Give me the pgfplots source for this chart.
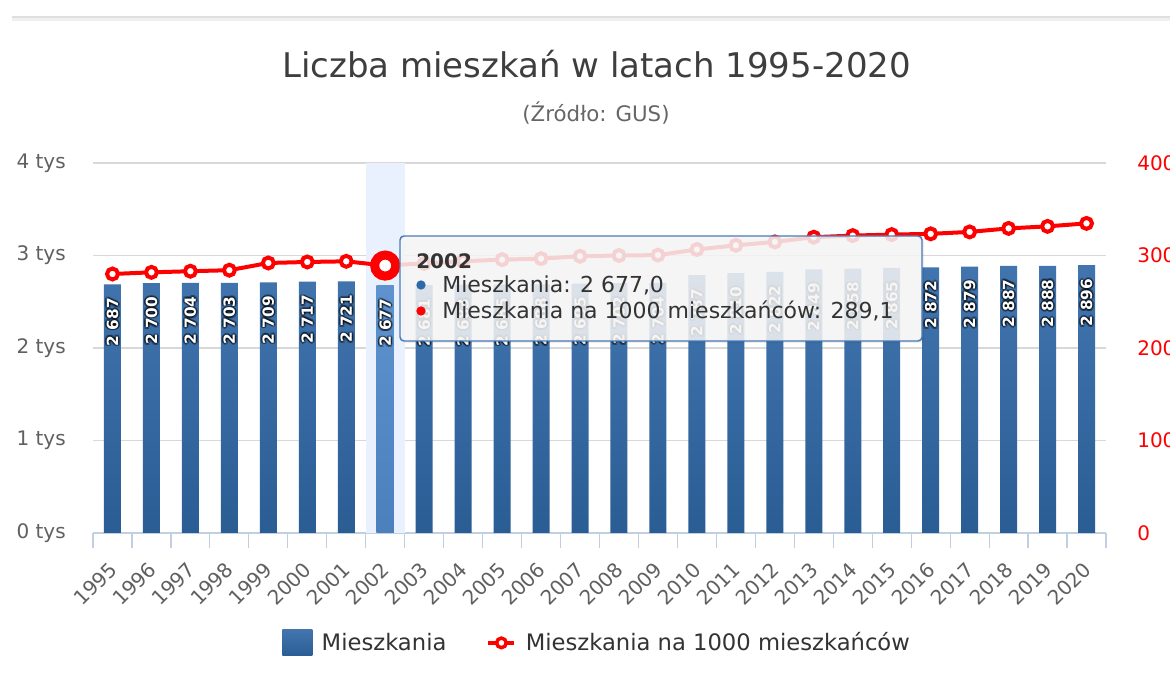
\documentclass[border=0pt]{standalone}
\usepackage{pgfplots}
\pgfplotsset{compat=1.18}
\usepackage{pgfplotstable}
\usepackage{fontspec}
\setmainfont{DejaVu Sans}
\definecolor{gridc}{HTML}{D8D8D8}
\definecolor{axisc}{HTML}{C0D0E0}
\definecolor{labc}{HTML}{606060}
\definecolor{txtc}{HTML}{333333}
\definecolor{titc}{HTML}{3E3E3E}
\definecolor{subc}{HTML}{666666}
\definecolor{bartop}{HTML}{4275AE}
\definecolor{barmid}{HTML}{6298D3}
\definecolor{barbot}{HTML}{2B5D95}
\definecolor{hovtop}{HTML}{5E93CF}
\definecolor{hovmid}{HTML}{82B4EB}
\definecolor{hovbot}{HTML}{4B80BC}
\definecolor{bandc}{HTML}{E8F1FD}
\definecolor{tipborder}{HTML}{4A7AB5}
\definecolor{tipfill}{HTML}{F7F7F7}
\definecolor{dotblue}{HTML}{2F6AA8}
\newcommand\titlefont{\fontsize{25.5}{30}\selectfont}
\newcommand\subfont{\fontsize{16}{19}\selectfont}
\newcommand\tickfont{\fontsize{15}{18}\selectfont}
\newcommand\legfont{\fontsize{17}{20}\selectfont}
\newcommand\tipfont{\fontsize{16.5}{20}\selectfont}
\newcommand\lblfont{\fontsize{11.5}{13}\selectfont\bfseries}

\pgfplotstableread{
i year flats rate
0 1995 2687 280.0
1 1996 2700 281.8
2 1997 2704 283.0
3 1998 2703 284.1
4 1999 2709 291.9
5 2000 2717 293.0
6 2001 2721 293.7
7 2002 2677 289.1
8 2003 2681 291.5
9 2004 2683 293.8
10 2005 2685 295.5
11 2006 2688 296.6
12 2007 2695 299.2
13 2008 2702 300.0
14 2009 2704 300.4
15 2010 2787 306.5
16 2011 2810 311.0
17 2012 2822 314.7
18 2013 2849 319.8
19 2014 2858 321.5
20 2015 2865 322.6
21 2016 2872 323.4
22 2017 2879 325.5
23 2018 2887 329.3
24 2019 2888 331.5
25 2020 2896 334.7
}\data

\pgfplotsset{
  lbl/.style n args={3}{ybar, bar width=12.75pt, bar shift=0pt, draw=none, fill=none, forget plot,
    nodes near coords={\pgfmathprintnumber[assume math mode=true,1000 sep={\ }]{\pgfplotspointmeta}},
    every node near coord/.append style={xshift=#1, yshift=-10pt+#2, font=\lblfont, inner sep=0pt, rotate=90, anchor=east, #3}},
}
\tikzset{rlab/.style={anchor=west, inner sep=0pt, font=\tickfont, text=red}}

\begin{document}
\begin{tikzpicture}
\useasboundingbox (0,0) rectangle (877.5pt,513pt);
\clip (0,0) rectangle (877.5pt,513pt);
\fill[white] (0,0) rectangle (877.5pt,513pt);
% top separator
\fill[gray!12] (9pt,497pt) rectangle (877.5pt,501pt);
\draw[gray!25, line width=1.2pt] (9pt,500.25pt) -- (877.5pt,500.25pt);

\node[font=\titlefont, text=titc] at (447.4pt,465pt) {Liczba mieszkań w latach 1995-2020};
\node[font=\subfont, text=subc] at (447pt,428.25pt) {(Źródło: GUS)};

\begin{axis}[
  at={(69.75pt,113.25pt)}, anchor=south west,
  width=759.75pt, height=277.5pt, scale only axis,
  xmin=-0.5, xmax=25.5, ymin=0, ymax=4000,
  axis y line*=left, axis x line*=bottom,
  y axis line style={draw=none},
  x axis line style={draw=axisc, line width=1pt, -},
  ytick={0,1000,2000,3000,4000},
  yticklabels={0 tys,1 tys,2 tys,3 tys,4 tys},
  ytick style={draw=none},
  ymajorgrids, grid style={draw=gridc, line width=1.2pt},
  major tick length=0pt,
  tick align=outside,
  yticklabel style={font=\tickfont, text=labc, anchor=east, inner sep=0pt, xshift=-20.25pt},
  xtick={0,...,25},
  xticklabels={1995,1996,1997,1998,1999,2000,2001,2002,2003,2004,2005,2006,2007,2008,2009,2010,2011,2012,2013,2014,2015,2016,2017,2018,2019,2020},
  xticklabel style={font=\tickfont, text=labc, inner sep=0pt, xshift=0.5pt, yshift=-24.5pt, rotate=45, anchor=east},
  xtick style={draw=axisc, line width=0.9pt},
  extra x ticks={-0.5,0.5,...,25.5},
  extra x tick labels={},
  extra x tick style={major tick length=11.25pt, tick align=outside, tick style={draw=axisc, line width=0.9pt}},
  legend style={at={(0.498,-0.297)}, anchor=center, draw=none, fill=none, legend columns=2,
    font=\legfont, text=txtc,
    /tikz/every odd column/.append style={column sep=5pt},
    /tikz/every even column/.append style={column sep=28pt}},
  legend cell align=left,
  clip=false,
]
\addplot[ybar, bar width=1, bar shift=0pt, fill=bandc, draw=none, forget plot] coordinates {(7,4000)};
\addplot[ybar, bar width=12.75pt, bar shift=0pt, draw=none, top color=bartop, middle color=barmid, bottom color=barbot, forget plot] table[x=i,y=flats]{\data};
\addplot[ybar, bar width=12.75pt, bar shift=0pt, draw=none, top color=hovtop, middle color=hovmid, bottom color=hovbot, forget plot] coordinates {(7,2677)};
% label glow
\addplot[lbl={1.3pt}{0pt}{text=black, text opacity=0.35}] table[x=i,y=flats]{\data};
\addplot[lbl={-1.3pt}{0pt}{text=black, text opacity=0.35}] table[x=i,y=flats]{\data};
\addplot[lbl={0pt}{1.3pt}{text=black, text opacity=0.35}] table[x=i,y=flats]{\data};
\addplot[lbl={0pt}{-1.3pt}{text=black, text opacity=0.35}] table[x=i,y=flats]{\data};
\addplot[lbl={1pt}{1pt}{text=black, text opacity=0.3}] table[x=i,y=flats]{\data};
\addplot[lbl={-1pt}{-1pt}{text=black, text opacity=0.3}] table[x=i,y=flats]{\data};
\addplot[lbl={1pt}{-1pt}{text=black, text opacity=0.3}] table[x=i,y=flats]{\data};
\addplot[lbl={-1pt}{1pt}{text=black, text opacity=0.3}] table[x=i,y=flats]{\data};
\addplot[lbl={0pt}{0pt}{text=white}] table[x=i,y=flats]{\data};
\addlegendimage{legend image code/.code={\shade[draw=none, top color=bartop, middle color=barmid, bottom color=barbot] (0pt,-9.75pt) rectangle (22.5pt,9.75pt);}}
\addlegendentry{Mieszkania}
\addlegendimage{legend image code/.code={\draw[red, line width=3pt] (0pt,0pt) -- (19.5pt,0pt); \draw[red, line width=2.6pt, fill=white] (9.75pt,0pt) circle (3.6pt);}}
\addlegendentry{Mieszkania na 1000 mieszkańców}
\end{axis}

\begin{axis}[
  at={(69.75pt,113.25pt)}, anchor=south west,
  width=759.75pt, height=277.5pt, scale only axis,
  xmin=-0.5, xmax=25.5, ymin=0, ymax=400,
  axis y line*=right, axis x line=none,
  y axis line style={draw=none}, ytick style={draw=none},
  major tick length=0pt,
  ytick={0,100,200,300,400},
  yticklabels={},
  clip=false,
]
\addplot[red, line width=3pt, mark=*, mark size=4.1pt, mark options={draw=red, fill=white, line width=3pt}] table[x=i,y=rate]{\data};
\addplot[only marks, mark=*, mark size=7.9pt, mark options={draw=red, fill=white, line width=6.75pt}, forget plot] coordinates {(7,289.1)};
\end{axis}

% right axis tick labels (secondary scale 0-400)
\node[rlab] at (852.75pt,113.25pt) {0};
\node[rlab] at (852.75pt,182.625pt) {100};
\node[rlab] at (852.75pt,252pt) {200};
\node[rlab] at (852.75pt,321.375pt) {300};
\node[rlab] at (852.75pt,390.75pt) {400};

% tooltip
\fill[black, opacity=0.07, rounded corners=3pt] (301.5pt,255.75pt) rectangle (693pt,334.5pt);
\fill[tipfill, fill opacity=0.85, rounded corners=3pt] (300pt,257.25pt) rectangle (691.5pt,336pt);
\draw[tipborder, line width=1.1pt, rounded corners=3pt] (300pt,257.25pt) rectangle (691.5pt,336pt);
\node[anchor=west, inner sep=0pt, font=\fontsize{15}{18}\selectfont\bfseries, text=txtc] at (312pt,317.25pt) {2002};
\fill[dotblue] (315.75pt,299.25pt) circle (3.5pt);
\node[anchor=west, inner sep=0pt, font=\tipfont, text=txtc] at (331.5pt,299.25pt) {Mieszkania: 2 677,0};
\fill[red] (315.75pt,279.75pt) circle (3.5pt);
\node[anchor=west, inner sep=0pt, font=\tipfont, text=txtc] at (331.5pt,279.75pt) {Mieszkania na 1000 mieszkańców: 289,1};
\end{tikzpicture}
\end{document}
